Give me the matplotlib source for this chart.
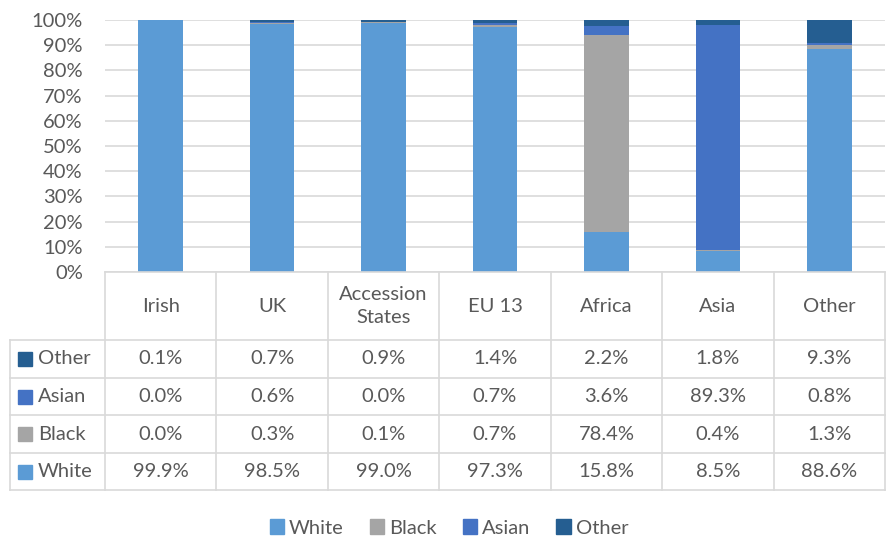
import matplotlib.pyplot as plt
import numpy as np
from matplotlib.patches import Rectangle
from matplotlib.lines import Line2D

plt.rcParams['font.family'] = ['Lato', 'DejaVu Sans']

regions = ['Irish', 'UK', 'Accession\nStates', 'EU 13', 'Africa', 'Asia', 'Other']
white = [99.9, 98.5, 99.0, 97.3, 15.8, 8.5, 88.6]
black = [0.0, 0.3, 0.1, 0.7, 78.4, 0.4, 1.3]
asian = [0.0, 0.6, 0.0, 0.7, 3.6, 89.3, 0.8]
other = [0.1, 0.7, 0.9, 1.4, 2.2, 1.8, 9.3]

names = ['White', 'Black', 'Asian', 'Other']
colors = ['#5B9BD5', '#A5A5A5', '#4472C4', '#255E91']
series = [white, black, asian, other]

W, H = 889, 541
fig = plt.figure(figsize=(W / 100, H / 100), dpi=100)
ax = fig.add_axes([105 / W, (H - 272) / H, 780 / W, 252 / H])

txt = '#595959'
grid = '#D9D9D9'
fs = 14.5
x = np.arange(len(regions))
bottom = np.zeros(len(regions))
for vals, c in zip(series, colors):
    v = np.array(vals) / 100
    ax.bar(x, v, 0.4, bottom=bottom, color=c, zorder=3)
    bottom += v

ax.set_xlim(-0.5, len(regions) - 0.5)
ax.set_ylim(0, 1)
ax.set_yticks(np.arange(0, 1.01, 0.1))
ax.set_yticklabels(['{}%'.format(int(round(t * 100))) for t in np.arange(0, 1.01, 0.1)],
                   fontsize=fs, color=txt)
ax.tick_params(axis='y', length=0, pad=16)
ax.set_xticks([])
ax.grid(axis='y', color=grid, linewidth=1.2, zorder=0)
for s in ax.spines.values():
    s.set_visible(False)

# data table below the plot, in pixel coords
def fx(px):
    return px / W

def fy(py):
    return 1 - py / H

col_edges = [105 + i * 780 / 7 for i in range(8)]
rows = [272, 340, 378, 415, 453, 490]
left = 10
lw = 1.2
# horizontal lines
fig.add_artist(Line2D([fx(col_edges[0]), fx(col_edges[-1])], [fy(272), fy(272)], color=grid, lw=lw))
for r in rows[1:]:
    fig.add_artist(Line2D([fx(left), fx(col_edges[-1])], [fy(r), fy(r)], color=grid, lw=lw))
# vertical lines
for ce in col_edges:
    fig.add_artist(Line2D([fx(ce), fx(ce)], [fy(272), fy(490)], color=grid, lw=lw))
fig.add_artist(Line2D([fx(left), fx(left)], [fy(340), fy(490)], color=grid, lw=lw))

for i, lab in enumerate(regions):
    cx = (col_edges[i] + col_edges[i + 1]) / 2
    fig.text(fx(cx), fy(306), lab, ha='center', va='center', fontsize=fs,
             color=txt, linespacing=1.45)

row_series = [3, 2, 1, 0]
for j, si in enumerate(row_series):
    cy = (rows[j + 1] + rows[j + 2]) / 2
    fig.add_artist(Rectangle((fx(18), fy(cy + 7)), fx(14), 14 / H, color=colors[si]))
    fig.text(fx(38), fy(cy), names[si], ha='left', va='center', fontsize=fs, color=txt)
    for i, v in enumerate(series[si]):
        cx = (col_edges[i] + col_edges[i + 1]) / 2
        fig.text(fx(cx), fy(cy), '{:.1f}%'.format(v), ha='center', va='center',
                 fontsize=fs, color=txt)

handles = [Rectangle((0, 0), 1, 1, color=c) for c in colors]
fig.legend(handles, names, loc='center', bbox_to_anchor=(fx(449), fy(528)), ncol=4,
           frameon=False, fontsize=fs, labelcolor=txt, handlelength=0.7,
           handleheight=0.7, handletextpad=0.25, columnspacing=1.3)

fig.savefig('out.png', dpi=100)
